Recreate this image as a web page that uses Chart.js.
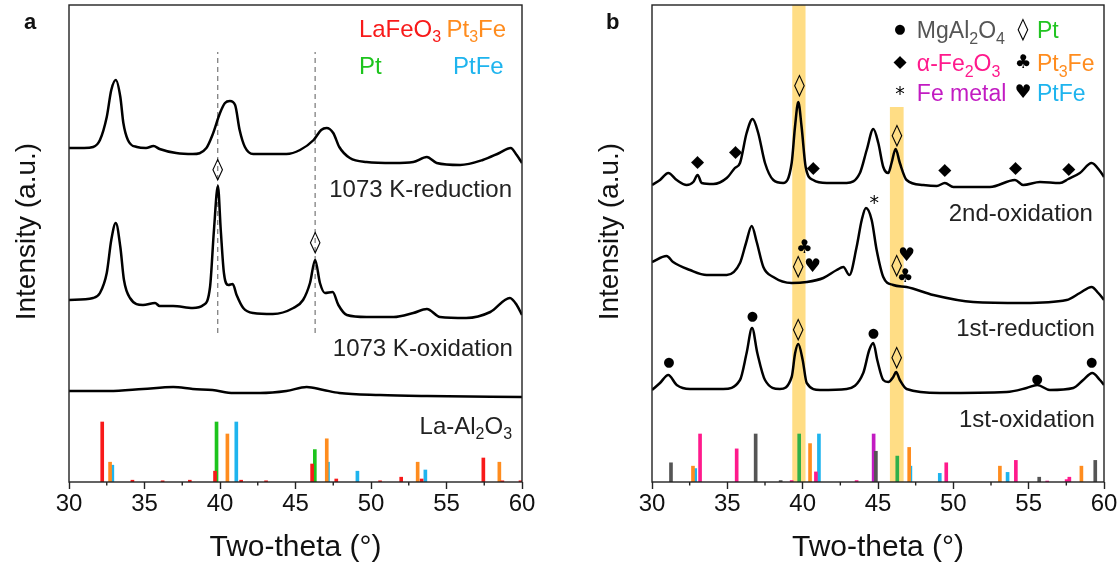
<!DOCTYPE html>
<html>
<head>
<meta charset="UTF-8" />
<title>XRD patterns</title>
<script src="https://cdn.jsdelivr.net/npm/chart.js@4.4.9/dist/chart.umd.min.js"></script>
<style>
  body { margin: 0; background: #fff; }
  #wrap { position: relative; width: 1120px; height: 571px; overflow: hidden; }
  .panel { position: absolute; top: 0; height: 571px; }
  #pa { left: 0; width: 560px; }
  #pb { left: 582px; width: 538px; }
  .tag { position: absolute; top: 11px; font: bold 22px 'Liberation Sans', Arial, sans-serif; line-height: 22px; color: #111; }
</style>
</head>
<body>
<div id="wrap">
  <div class="panel" id="pa"><canvas id="chartA"></canvas></div>
  <div class="panel" id="pb"><canvas id="chartB"></canvas></div>
  <span class="tag" style="left:24px">a</span>
  <span class="tag" style="left:606px">b</span>
</div>
<script>
    // ---- panel a : measured patterns (two-theta in deg, stacked intensity in a.u.) ----
    const aRedTheta = [30, 31, 31.6, 32.05, 32.5, 32.8, 33.1, 33.4, 33.6, 33.9, 34.5, 35.1, 35.6, 36.0, 37.1, 38.2, 39.1, 39.5, 40.0, 40.33, 40.66, 41.0, 41.3, 41.65, 42.2, 43.1, 44.4, 45.3, 46.2, 46.7, 47.06, 47.5, 47.9, 48.6, 49.7, 51.5, 52.8, 53.7, 54.35, 55.9, 57.4, 58.5, 59.25, 59.65, 60];
    const aRedInt   = [334, 334, 335, 342, 365, 392, 402, 385, 359, 342, 335, 334, 336, 333, 329, 328, 334, 347, 369, 379, 381, 377, 352, 335, 328, 328, 328, 332, 342, 352, 354, 349, 335, 324, 320, 319, 320, 325, 319, 317, 322, 329, 334, 327, 319];

    const aOxTheta = [30, 31.6, 32.05, 32.5, 32.8, 33.1, 33.4, 33.64, 34.04, 34.9, 35.7, 36.0, 36.9, 38.2, 38.9, 39.34, 39.6, 39.86, 40.05, 40.26, 40.55, 40.84, 41.1, 41.54, 42.2, 43.5, 44.86, 45.5, 45.96, 46.3, 46.62, 46.95, 47.46, 47.84, 48.4, 49.7, 51.5, 52.8, 53.7, 54.57, 56.3, 57.9, 59.2, 59.65, 60];
    const aOxInt   = [182, 184, 189, 209, 242, 259, 235, 202, 184, 177, 179, 176, 176, 174, 177, 195, 252, 296, 252, 209, 197, 198, 187, 174, 169, 168, 174, 182, 199, 222, 199, 189, 190, 177, 167, 165, 165, 169, 173, 165, 164, 170, 184, 177, 167];

    const aSupTheta = [30, 32.65, 34.9, 36.9, 38.2, 39.5, 40.9, 42.65, 44.4, 45.74, 46.85, 47.9, 50.6, 53.7, 60];
    const aSupInt   = [91, 91, 93, 95, 93, 92, 89, 89, 91, 95, 92, 89, 87, 86, 85];

    // ---- panel b : measured patterns ----
    const bOx2Theta = [30, 30.53, 31.08, 31.64, 32.3, 32.74, 33.03, 33.3, 34.07, 34.96, 35.5, 35.84, 36.28, 36.68, 37.05, 37.5, 38.05, 38.71, 39.27, 39.49, 39.71, 39.93, 40.2, 40.7, 41.6, 42.92, 43.8, 44.25, 44.69, 45.02, 45.35, 45.68, 45.9, 46.17, 46.45, 46.9, 48.0, 48.9, 49.44, 50.0, 52.43, 54.09, 54.64, 55.75, 57.07, 57.63, 58.4, 59.18, 59.73, 60];
    const bOx2Int   = [297, 302, 309, 302, 297, 300, 307, 299, 298, 304, 314, 319, 349, 363, 349, 319, 302, 299, 319, 355, 380, 355, 315, 302, 299, 299, 309, 332, 353, 339, 315, 309, 319, 333, 319, 302, 297, 296, 299, 295, 295, 302, 297, 300, 299, 303, 309, 319, 311, 305];

    const bRed1Theta = [30, 30.97, 31.4, 32.52, 33.63, 34.96, 35.84, 36.24, 36.62, 36.95, 37.39, 38.05, 39.27, 40.27, 41.37, 42.26, 42.7, 43.1, 43.58, 43.92, 44.2, 44.58, 44.91, 45.35, 46.01, 46.9, 48.67, 51.32, 54.64, 57.52, 58.4, 59.18, 59.62, 60];
    const bRed1Int   = [220, 226, 220, 212, 207, 207, 219, 239, 256, 240, 215, 205, 199, 200, 204, 212, 215, 207, 235, 262, 274, 262, 232, 205, 197, 195, 187, 180, 179, 182, 189, 195, 189, 182];

    const bOx1Theta = [30, 30.53, 31.08, 31.64, 32.52, 34.73, 35.84, 36.28, 36.64, 36.99, 37.5, 38.49, 39.27, 39.5, 39.71, 40.0, 40.27, 41.15, 42.92, 44.02, 44.42, 44.69, 44.95, 45.35, 45.68, 46.01, 46.2, 46.45, 46.9, 49.11, 53.54, 54.86, 55.57, 56.41, 57.96, 58.62, 59.22, 59.73, 60];
    const bOx1Int   = [92, 99, 107, 97, 93, 93, 102, 129, 154, 129, 102, 93, 105, 129, 138, 122, 99, 92, 93, 109, 132, 139, 122, 102, 100, 105, 110, 102, 93, 89, 90, 94, 97, 92, 94, 102, 109, 102, 97];

    // ---- reference patterns (position in deg, relative intensity 0-100) ----
    const laFeO3Pos = [32.2, 34.2, 36.2, 38.0, 39.67, 41.4, 43.05, 46.1, 47.7, 50.6, 52.0, 53.35, 57.44, 58.7, 59.9];
    const laFeO3Rel = [100, 3, 2, 3, 18, 3, 2, 30, 5, 2, 8, 5, 40, 2, 2];
    const ptPos = [39.77, 46.28];
    const ptRel = [100, 54];
    const pt3FePos = [32.72, 40.49, 47.07, 53.09, 58.5];
    const pt3FeRel = [33, 80, 72, 33, 33];
    const ptFePos = [32.87, 41.08, 47.15, 49.1, 53.6];
    const ptFeRel = [28, 100, 33, 18, 20];
    const mgAl2O4Pos = [31.26, 36.88, 38.54, 44.86, 55.7, 59.42];
    const mgAl2O4Rel = [40, 100, 3, 64, 10, 45];
    const fe2O3Pos = [33.19, 35.62, 39.27, 40.88, 43.58, 49.53, 54.15, 56.23, 57.52, 57.7];
    const fe2O3Rel = [100, 69, 3, 21, 3, 40, 45, 2, 5, 10];
    const fePos = [44.71];
    const feRel = [100];

    const FONT = "'Liberation Sans', Arial, Helvetica, sans-serif";
    const SYM = "'DejaVu Sans', sans-serif";

    function pts(xs, ys) {
        return xs.map((t, i) => ({ x: t, y: ys[i] }));
    }

    function trace(xs, ys) {
        return {
            type: 'line', data: pts(xs, ys), borderColor: '#000', borderWidth: 2.5,
            pointRadius: 0, cubicInterpolationMode: 'monotone', fill: false, order: 1
        };
    }

    // reference sticks, drawn as thin bars from zero
    function sticks(pos, rel, color, k) {
        return {
            type: 'bar', data: pos.map((p, i) => ({ x: p, y: rel[i] * k })),
            backgroundColor: color, borderWidth: 0, barThickness: 3, grouped: false, order: 2
        };
    }

    // text with single-character subscripts written as _n
    function drawRich(ctx, str, x, yc, size, color, align) {
        const parts = [];
        for (let i = 0; i < str.length; i++) {
            if (str[i] === '_') { parts.push({ t: str[i + 1], sub: true }); i++; }
            else if (parts.length && !parts[parts.length - 1].sub) parts[parts.length - 1].t += str[i];
            else parts.push({ t: str[i], sub: false });
        }
        const subSize = Math.round(size * 0.68);
        let w = 0;
        parts.forEach(p => {
            ctx.font = (p.sub ? subSize : size) + 'px ' + FONT;
            p.w = ctx.measureText(p.t).width;
            w += p.w;
        });
        let cx = align === 'right' ? x - w : x;
        const base = yc + size * 0.36;
        ctx.fillStyle = color;
        ctx.textAlign = 'left';
        ctx.textBaseline = 'alphabetic';
        parts.forEach(p => {
            ctx.font = (p.sub ? subSize : size) + 'px ' + FONT;
            ctx.fillText(p.t, cx, p.sub ? base + size * 0.24 : base);
            cx += p.w;
        });
    }

    const glyphSize = { '◊': 22, '◆': 17, '●': 13, '♣': 19, '♥': 19, '*': 19 };

    const decor = {
        id: 'decor',
        beforeDatasetsDraw(chart, args, opts) {
            const { ctx, chartArea: ca, scales: { x, y } } = chart;
            ctx.save();
            ctx.fillStyle = '#FFDD85';
            (opts.bands || []).forEach(b => {
                const x0 = x.getPixelForValue(b.from), x1 = x.getPixelForValue(b.to);
                const yt = b.top == null ? ca.top : y.getPixelForValue(b.top);
                ctx.fillRect(x0, yt, x1 - x0, ca.bottom - yt);
            });
            ctx.strokeStyle = '#777';
            ctx.lineWidth = 1.2;
            ctx.setLineDash([5, 4]);
            (opts.dashes || []).forEach(d => {
                const px = x.getPixelForValue(d.at);
                ctx.beginPath();
                ctx.moveTo(px, y.getPixelForValue(d.from));
                ctx.lineTo(px, y.getPixelForValue(d.to));
                ctx.stroke();
            });
            ctx.restore();
        },
        afterDatasetsDraw(chart, args, opts) {
            const { ctx, chartArea: ca, scales: { x, y } } = chart;
            ctx.save();
            // frame and minor ticks
            ctx.strokeStyle = '#222';
            ctx.lineWidth = 1.4;
            ctx.strokeRect(ca.left, ca.top, ca.right - ca.left, ca.bottom - ca.top);
            ctx.beginPath();
            for (let v = 32.5; v < 60; v += 5) {
                const px = x.getPixelForValue(v);
                ctx.moveTo(px, ca.bottom);
                ctx.lineTo(px, ca.bottom + 3.5);
            }
            ctx.stroke();
            // y-axis title, sitting a little above the middle of the axis
            ctx.save();
            ctx.translate(opts.yTitleX, ca.top + (ca.bottom - ca.top) * 0.475);
            ctx.rotate(-Math.PI / 2);
            ctx.font = '28px ' + FONT;
            ctx.fillStyle = '#111';
            ctx.textAlign = 'center';
            ctx.textBaseline = 'middle';
            ctx.fillText('Intensity (a.u.)', 0, 0);
            ctx.restore();
            // peak markers
            ctx.fillStyle = '#000';
            ctx.textAlign = 'center';
            ctx.textBaseline = 'middle';
            (opts.marks || []).forEach(m => {
                ctx.font = (glyphSize[m.g] || 18) + 'px ' + SYM;
                ctx.fillText(m.g, x.getPixelForValue(m.x), y.getPixelForValue(m.y));
            });
            // sample names and phase key
            (opts.texts || []).forEach(t => {
                drawRich(ctx, t.s, x.getPixelForValue(t.x), y.getPixelForValue(t.y), t.size || 24, t.color || '#222', t.align || 'left');
            });
            ctx.restore();
        }
    };

    function makeChart(id, datasets, yAxisWidth, padRight, decorOpts) {
        return new Chart(document.getElementById(id), {
            type: 'line',
            data: { datasets: datasets },
            options: {
                responsive: true,
                maintainAspectRatio: false,
                animation: false,
                layout: { padding: { top: 5, right: padRight, left: 0, bottom: 0 } },
                plugins: { legend: { display: false }, tooltip: { enabled: false }, decor: decorOpts },
                scales: {
                    x: {
                        type: 'linear', min: 30, max: 60, offset: false,
                        ticks: { stepSize: 5, color: '#111', font: { family: FONT, size: 24 }, padding: 1, maxRotation: 0 },
                        grid: { drawOnChartArea: false, offset: false, tickLength: 7, tickColor: '#222', tickWidth: 1.4 },
                        border: { display: false },
                        title: { display: true, text: 'Two-theta (°)', color: '#111', font: { family: FONT, size: 30 }, padding: { top: 0, bottom: 5 } },
                        afterFit: s => { s.height = 89; }
                    },
                    y: {
                        min: 0, max: 477,
                        ticks: { display: false },
                        grid: { display: false },
                        border: { display: false },
                        afterFit: s => { s.width = yAxisWidth; }
                    }
                }
            },
            plugins: [decor]
        });
    }

    const RED = '#F81A1A', ORANGE = '#FF8C1E', GREEN_A = '#1DC41D', GREEN_B = '#2EB04A',
          BLUE = '#1EB4EE', PINK = '#FF1A8C', PURPLE = '#C21BC2', GREY = '#555555';

    makeChart('chartA', [
        trace(aRedTheta, aRedInt),
        trace(aOxTheta, aOxInt),
        trace(aSupTheta, aSupInt),
        sticks(laFeO3Pos, laFeO3Rel, RED, 0.6),
        sticks(pt3FePos, pt3FeRel, ORANGE, 0.6),
        sticks(ptPos, ptRel, GREEN_A, 0.6),
        sticks(ptFePos, ptFeRel, BLUE, 0.6)
    ], 69, 38, {
        yTitleX: 27,
        dashes: [{ at: 39.85, from: 149, to: 430 }, { at: 46.3, from: 149, to: 430 }],
        marks: [{ x: 39.85, y: 312, g: '◊' }, { x: 46.3, y: 239, g: '◊' }],
        texts: [
            { s: '1073 K-reduction', x: 59.34, y: 294, align: 'right' },
            { s: '1073 K-oxidation', x: 59.4, y: 135, align: 'right' },
            { s: 'La-Al_2O_3', x: 59.34, y: 57, align: 'right' },
            { s: 'LaFeO_3', x: 49.2, y: 454, color: RED },
            { s: 'Pt_3Fe', x: 55.0, y: 454, color: ORANGE },
            { s: 'Pt', x: 49.2, y: 417, color: GREEN_A },
            { s: 'PtFe', x: 55.43, y: 417, color: BLUE }
        ]
    });

    makeChart('chartB', [
        trace(bOx2Theta, bOx2Int),
        trace(bRed1Theta, bRed1Int),
        trace(bOx1Theta, bOx1Int),
        sticks(mgAl2O4Pos, mgAl2O4Rel, GREY, 0.48),
        sticks(fe2O3Pos, fe2O3Rel, PINK, 0.48),
        sticks(fePos, feRel, PURPLE, 0.48),
        sticks(ptPos, ptRel, GREEN_B, 0.48),
        sticks(pt3FePos, pt3FeRel, ORANGE, 0.48),
        sticks(ptFePos, ptFeRel, BLUE, 0.48)
    ], 70, 16, {
        yTitleX: 28,
        bands: [{ from: 39.31, to: 40.19, top: null }, { from: 45.79, to: 46.7, top: 375 }],
        marks: [
            { x: 33.03, y: 319, g: '◆' }, { x: 35.55, y: 329, g: '◆' }, { x: 39.78, y: 396, g: '◊' },
            { x: 40.71, y: 313, g: '◆' }, { x: 46.25, y: 346, g: '◊' }, { x: 49.44, y: 311, g: '◆' },
            { x: 54.13, y: 313, g: '◆' }, { x: 57.67, y: 312, g: '◆' },
            { x: 44.75, y: 278, g: '*' }, { x: 40.1, y: 234, g: '♣' }, { x: 39.71, y: 215, g: '◊' },
            { x: 40.66, y: 215, g: '♥' }, { x: 46.24, y: 216, g: '◊' }, { x: 46.9, y: 226, g: '♥' },
            { x: 46.79, y: 205, g: '♣' },
            { x: 31.13, y: 119, g: '●' }, { x: 36.67, y: 165, g: '●' }, { x: 39.71, y: 152, g: '◊' },
            { x: 44.69, y: 148, g: '●' }, { x: 46.24, y: 124, g: '◊' }, { x: 55.57, y: 102, g: '●' },
            { x: 59.18, y: 119, g: '●' },
            // phase key symbols
            { x: 46.46, y: 452, g: '●' }, { x: 46.46, y: 419, g: '◆' }, { x: 46.46, y: 387, g: '*' },
            { x: 54.62, y: 452, g: '◊' }, { x: 54.62, y: 419, g: '♣' }, { x: 54.62, y: 389, g: '♥' }
        ],
        texts: [
            { s: '2nd-oxidation', x: 59.26, y: 270, align: 'right' },
            { s: '1st-reduction', x: 59.4, y: 155, align: 'right' },
            { s: '1st-oxidation', x: 59.4, y: 64, align: 'right' },
            { s: 'MgAl_2O_4', x: 47.58, y: 452, color: GREY, size: 23 },
            { s: 'α-Fe_2O_3', x: 47.58, y: 419, color: PINK, size: 23 },
            { s: 'Fe metal', x: 47.58, y: 389, color: PURPLE, size: 23 },
            { s: 'Pt', x: 55.55, y: 452, color: '#22C422', size: 23 },
            { s: 'Pt_3Fe', x: 55.55, y: 419, color: ORANGE, size: 23 },
            { s: 'PtFe', x: 55.55, y: 389, color: BLUE, size: 23 }
        ]
    });
</script>
</body>
</html>
